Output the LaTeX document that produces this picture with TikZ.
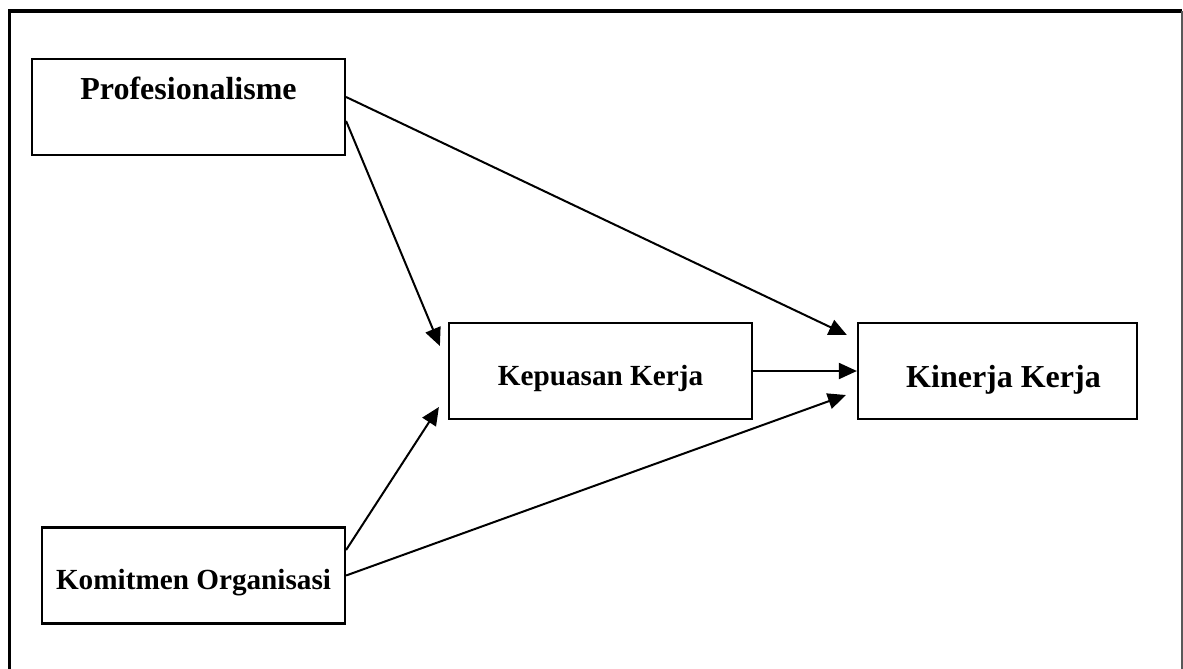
\documentclass[tikz,border=0pt]{standalone}
\usepackage{fontspec}
\setmainfont{Liberation Serif}
\usepackage{tikz}
\usetikzlibrary{arrows.meta, positioning}

\begin{document}
\begin{tikzpicture}[x=0.5pt, y=-0.5pt]
    \tikzstyle{varbox}=[draw=black, line width=1.1pt, fill=white, inner sep=0pt,
                        minimum height=48pt, font=\bfseries]
    \tikzstyle{arr}=[-{Triangle[length=9pt, width=8pt]}, line width=1pt]
    \tikzstyle{frame}=[line width=1.8pt]

    \useasboundingbox (0,0) rectangle (1183,669);
    \draw[frame] (9.5,690) -- (9.5,11) -- (1182,11);
    \draw[gray!70!black, line width=0.7pt] (1182,11) -- (1182,690);

    \node[varbox, minimum width=156.5pt, font=\fontsize{16}{19}\bfseries\selectfont,
          text height=12pt, text depth=20pt] (prof) at (188.5,107) {Profesionalisme};
    \node[varbox, minimum width=151.5pt, font=\fontsize{14.6}{18}\bfseries\selectfont,
          text height=16pt, text depth=2.5pt] (komit) at (193.5,575.5) {Komitmen Organisasi};
    \node[varbox, minimum width=151.5pt, font=\fontsize{14.6}{18}\bfseries\selectfont,
          text height=16pt, text depth=2pt] (puas) at (600.5,371) {Kepuasan Kerja};
    \node[varbox, minimum width=139.5pt, font=\fontsize{16}{19}\bfseries\selectfont,
          text height=17pt, text depth=1pt] (kinerja) at (997.5,371) {\hspace*{6pt}Kinerja Kerja};

    \draw[arr] ([yshift=5pt]prof.east)    -- ([xshift=-5pt, yshift=18pt]kinerja.west);
    \draw[arr] ([yshift=-7pt]prof.east)   -- ([xshift=-4pt, yshift=12.5pt]puas.west);
    \draw[arr] ([yshift=12.75pt]komit.east) -- ([xshift=-4.5pt, yshift=-18pt]puas.west);
    \draw[arr] (komit.east)               -- ([xshift=-5.5pt, yshift=-12pt]kinerja.west);
    \draw[arr] (puas.east)                -- (kinerja.west);
\end{tikzpicture}
\end{document}
